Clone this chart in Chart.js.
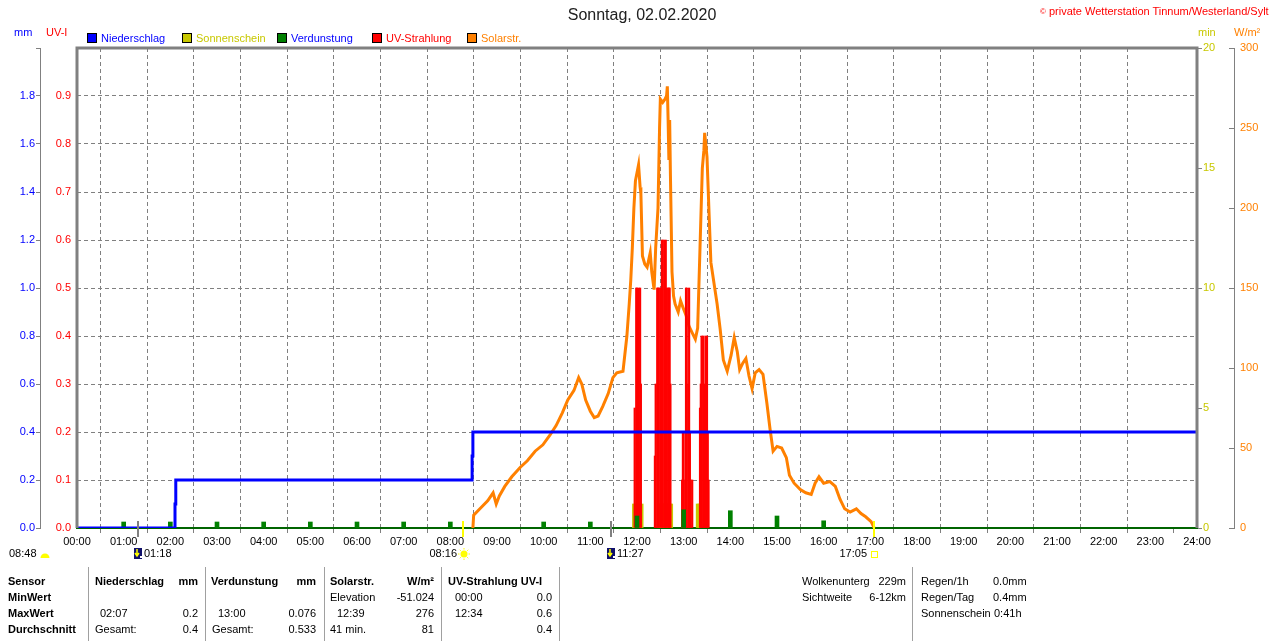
<!DOCTYPE html>
<html>
<head>
<meta charset="utf-8">
<script src="https://cdn.jsdelivr.net/npm/chart.js@4.4.1/dist/chart.umd.min.js"></script>
<style>
body{margin:0;background:#fff;}
#wrap{position:relative;width:1280px;height:641px;overflow:hidden;font-family:'Liberation Sans',Arial,sans-serif;font-size:11px;color:#000;}
canvas{position:absolute;left:0;top:0;}
.t{position:absolute;white-space:nowrap;line-height:13px;}
.r{transform:translateX(-100%);}
.b{font-weight:bold;}
.sep{position:absolute;top:567px;height:74px;width:1px;background:#a0a0a0;}
.box{position:absolute;width:8px;height:8px;border:1px solid #000;top:33px;}
</style>
</head>
<body>
<div id="wrap">
<canvas id="c" width="1280" height="641"></canvas>

<div class="t" style="left:642px;top:6px;font-size:16px;line-height:18px;color:#202020;transform:translateX(-50%);">Sonntag, 02.02.2020</div>
<div class="t" style="left:1040px;top:5px;color:#ff0000;"><span style="font-size:8px;vertical-align:top;">©</span> private Wetterstation Tinnum/Westerland/Sylt</div>

<div class="t" style="left:14px;top:26px;color:#0000ff;">mm</div>
<div class="t" style="left:46px;top:26px;color:#ff0000;">UV-I</div>
<div class="t" style="left:1198px;top:26px;color:#c8c800;">min</div>
<div class="t" style="left:1234px;top:26px;color:#ff8000;">W/m²</div>

<div class="box" style="left:87px;background:#0000ff;"></div>
<div class="t" style="left:101px;top:32px;color:#0000ff;">Niederschlag</div>
<div class="box" style="left:182px;background:#c8c800;"></div>
<div class="t" style="left:196px;top:32px;color:#c8c800;">Sonnenschein</div>
<div class="box" style="left:277px;background:#008000;"></div>
<div class="t" style="left:291px;top:32px;color:#0000ff;">Verdunstung</div>
<div class="box" style="left:372px;background:#ff0000;"></div>
<div class="t" style="left:386px;top:32px;color:#ff0000;">UV-Strahlung</div>
<div class="box" style="left:467px;background:#ff8000;"></div>
<div class="t" style="left:481px;top:32px;color:#ff8000;">Solarstr.</div>

<div class="sep" style="left:88px;"></div>
<div class="sep" style="left:205px;"></div>
<div class="sep" style="left:324px;"></div>
<div class="sep" style="left:441px;"></div>
<div class="sep" style="left:559px;"></div>
<div class="sep" style="left:912px;"></div>

<div class="t b" style="left:8px;top:575px;">Sensor</div>
<div class="t b" style="left:8px;top:591px;">MinWert</div>
<div class="t b" style="left:8px;top:607px;">MaxWert</div>
<div class="t b" style="left:8px;top:623px;">Durchschnitt</div>

<div class="t b" style="left:95px;top:575px;">Niederschlag</div>
<div class="t b r" style="left:198px;top:575px;">mm</div>
<div class="t" style="left:100px;top:607px;">02:07</div>
<div class="t r" style="left:198px;top:607px;">0.2</div>
<div class="t" style="left:95px;top:623px;">Gesamt:</div>
<div class="t r" style="left:198px;top:623px;">0.4</div>

<div class="t b" style="left:211px;top:575px;">Verdunstung</div>
<div class="t b r" style="left:316px;top:575px;">mm</div>
<div class="t" style="left:218px;top:607px;">13:00</div>
<div class="t r" style="left:316px;top:607px;">0.076</div>
<div class="t" style="left:212px;top:623px;">Gesamt:</div>
<div class="t r" style="left:316px;top:623px;">0.533</div>

<div class="t b" style="left:330px;top:575px;">Solarstr.</div>
<div class="t b r" style="left:434px;top:575px;">W/m²</div>
<div class="t" style="left:330px;top:591px;">Elevation</div>
<div class="t r" style="left:434px;top:591px;">-51.024</div>
<div class="t" style="left:337px;top:607px;">12:39</div>
<div class="t r" style="left:434px;top:607px;">276</div>
<div class="t" style="left:330px;top:623px;">41 min.</div>
<div class="t r" style="left:434px;top:623px;">81</div>

<div class="t b" style="left:448px;top:575px;">UV-Strahlung UV-I</div>
<div class="t" style="left:455px;top:591px;">00:00</div>
<div class="t r" style="left:552px;top:591px;">0.0</div>
<div class="t" style="left:455px;top:607px;">12:34</div>
<div class="t r" style="left:552px;top:607px;">0.6</div>
<div class="t r" style="left:552px;top:623px;">0.4</div>

<div class="t" style="left:802px;top:575px;">Wolkenunterg</div>
<div class="t r" style="left:906px;top:575px;">229m</div>
<div class="t" style="left:802px;top:591px;">Sichtweite</div>
<div class="t r" style="left:906px;top:591px;">6-12km</div>

<div class="t" style="left:921px;top:575px;">Regen/1h</div>
<div class="t" style="left:993px;top:575px;">0.0mm</div>
<div class="t" style="left:921px;top:591px;">Regen/Tag</div>
<div class="t" style="left:993px;top:591px;">0.4mm</div>
<div class="t" style="left:921px;top:607px;">Sonnenschein</div>
<div class="t" style="left:994px;top:607px;">0:41h</div>
</div>

<script>
// Niederschlag (kumuliert, mm)
var rainTimes = ["00:00", "02:06", "02:07", "08:28", "08:29", "24:00"];
var rainValues = [0, 0.1, 0.2, 0.3, 0.4, 0.4];

// Verdunstung (mm)
var evapTimes = ["01:00", "02:00", "03:00", "04:00", "05:00", "06:00", "07:00", "08:00", "10:00", "11:00", "12:00", "13:00", "14:00", "15:00", "16:00"];
var evapValues = [0.025, 0.025, 0.025, 0.025, 0.025, 0.025, 0.025, 0.025, 0.025, 0.025, 0.05, 0.076, 0.072, 0.05, 0.03];

// Sonnenschein (min)
var sunTimes = ["11:56", "11:58", "12:00", "12:02", "12:04", "12:06", "12:28", "12:30", "12:32", "12:34", "12:36", "12:38", "12:40", "12:42", "12:44", "13:18", "13:20"];
var sunValues = [1, 1, 1, 1, 1, 1, 1, 1, 1, 1, 1, 1, 1, 1, 1, 1, 1];

// UV-Strahlung (UV-I)
var uvTimes = ["11:57", "11:59", "12:00", "12:01", "12:02", "12:04", "12:05",
  "12:23", "12:24", "12:26", "12:27", "12:28", "12:30",
  "12:32", "12:33", "12:35", "12:36", "12:37", "12:38", "12:40", "12:41", "12:42", "12:43",
  "12:58", "12:59", "13:00", "13:02", "13:03", "13:04", "13:06", "13:07", "13:08", "13:09", "13:11",
  "13:21", "13:22", "13:23", "13:25", "13:26", "13:27", "13:28", "13:30", "13:31", "13:32"];
var uvValues = [0.25, 0.5, 0.5, 0.3, 0.5, 0.5, 0.3,
  0.15, 0.3, 0.5, 0.5, 0.5, 0.5,
  0.6, 0.6, 0.6, 0.55, 0.6, 0.5, 0.5, 0.5, 0.5, 0.3,
  0.1, 0.2, 0.2, 0.1, 0.5, 0.5, 0.3, 0.5, 0.2, 0.1, 0.1,
  0.25, 0.3, 0.4, 0.4, 0.25, 0.3, 0.4, 0.4, 0.2, 0.1];

// Solarstrahlung (W/m2)
var solarTimes = ["08:29", "08:30", "08:38", "08:48", "08:55", "08:59", "09:03", "09:10", "09:19", "09:30",
  "09:39", "09:49", "09:59", "10:08", "10:16", "10:24", "10:31", "10:39", "10:45", "10:49",
  "10:54", "11:00", "11:05", "11:10", "11:16", "11:23", "11:29", "11:34", "11:42", "11:47",
  "11:50", "11:52", "11:54", "11:56", "11:58", "12:00", "12:02", "12:04", "12:05", "12:07",
  "12:10", "12:13", "12:17", "12:19", "12:22", "12:24", "12:27", "12:29", "12:30", "12:33",
  "12:36", "12:38", "12:39", "12:40", "12:41", "12:42", "12:43", "12:45", "12:47", "12:49",
  "12:53", "12:56", "12:59", "13:03", "13:07", "13:11", "13:15", "13:18", "13:21", "13:24",
  "13:26", "13:27", "13:30", "13:33", "13:35", "13:39", "13:43", "13:47", "13:51", "13:56",
  "14:01", "14:05", "14:09", "14:12", "14:16", "14:20", "14:24", "14:28", "14:32", "14:37",
  "14:42", "14:47", "14:51", "14:55", "15:00", "15:06", "15:12", "15:16", "15:22", "15:30",
  "15:37", "15:44", "15:49", "15:54", "16:00", "16:08", "16:15", "16:21", "16:27", "16:34",
  "16:42", "16:48", "16:54", "17:01", "17:05"];
var solarValues = [0, 8, 12, 17, 22, 15, 20, 26, 32, 38,
  42, 48, 52, 58, 64, 72, 80, 86, 94, 90,
  80, 73, 69, 70, 76, 84, 94, 97, 98, 120,
  140, 155, 175, 200, 217, 222, 227, 213, 209, 170,
  165, 163, 172, 160, 149, 175, 200, 250, 268, 266,
  268, 270, 276, 255, 230, 255, 220, 160, 145, 140,
  135, 142, 138, 133, 126, 122, 118, 125, 175, 225,
  236, 247, 232, 192, 166, 153, 140, 124, 105, 98,
  108, 119, 110, 99, 103, 106, 95, 87, 97, 99,
  96, 78, 62, 48, 51, 50, 44, 33, 28, 24,
  22, 21, 28, 32, 28, 29, 26, 18, 12, 10,
  12, 9, 7, 4, 0];

var hourLabels = ["00:00", "01:00", "02:00", "03:00", "04:00", "05:00", "06:00", "07:00", "08:00", "09:00", "10:00", "11:00", "12:00",
  "13:00", "14:00", "15:00", "16:00", "17:00", "18:00", "19:00", "20:00", "21:00", "22:00", "23:00", "24:00"];

// Mond / Sonne auf- und untergang
var eventTimes = ["01:18", "08:16", "11:27", "17:05"];
var eventKinds = ["moon", "sunrise", "moon", "sunset"];
var dayLength = "08:48";

function toMin(s) {
  var p = s.split(":");
  return parseInt(p[0], 10) * 60 + parseInt(p[1], 10);
}
function pts(times, vals) {
  var out = [];
  for (var i = 0; i < times.length; i++) {
    out.push({x: toMin(times[i]), y: vals[i]});
  }
  return out;
}

var GRAY = "#808080";
var FONT = {family: "'Liberation Sans', Arial, sans-serif", size: 11};

var framePlugin = {
  id: "frame",
  afterDatasetsDraw: function(chart) {
    var a = chart.chartArea, c = chart.ctx;
    c.save();
    c.strokeStyle = GRAY;
    c.lineWidth = 3;
    c.beginPath();
    c.moveTo(a.left, a.bottom);
    c.lineTo(a.left, a.top);
    c.lineTo(a.right, a.top);
    c.lineTo(a.right, a.bottom);
    c.stroke();
    // inward ticks of the W/m2 axis
    var wm = chart.scales.wm;
    c.lineWidth = 1;
    wm.ticks.forEach(function(t) {
      var y = Math.round(wm.getPixelForValue(t.value)) + 0.5;
      c.beginPath();
      c.moveTo(wm.left - 5, y);
      c.lineTo(wm.left, y);
      c.stroke();
    });
    c.restore();
  },
  afterDraw: function(chart) {
    var c = chart.ctx, xs = chart.scales.x;
    c.save();
    c.font = "11px 'Liberation Sans', Arial, sans-serif";
    c.textBaseline = "middle";
    for (var i = 0; i < eventTimes.length; i++) {
      var x = Math.round(xs.getPixelForValue(toMin(eventTimes[i])));
      var kind = eventKinds[i];
      c.strokeStyle = kind == "moon" ? GRAY : "#ffff00";
      c.lineWidth = 2;
      c.beginPath();
      c.moveTo(x, 521);
      c.lineTo(x, 537);
      c.stroke();
      c.fillStyle = "#000";
      if (kind == "moon") {
        c.fillStyle = "#10106a";
        c.fillRect(x - 4, 548, 8, 11);
        c.strokeStyle = "#ffff00";
        c.lineWidth = 1.5;
        c.beginPath();
        c.moveTo(x - 1, 549); c.lineTo(x - 1, 556);
        c.moveTo(x - 3, 553); c.lineTo(x - 1, 556); c.lineTo(x + 1, 553);
        c.stroke();
        c.fillStyle = "#ffffff";
        c.fillRect(x + 2, 556, 2, 2);
        c.fillStyle = "#000";
        c.textAlign = "left";
        c.fillText(eventTimes[i], x + 6, 554);
      } else if (kind == "sunrise") {
        c.fillStyle = "#ffff00";
        c.beginPath();
        c.arc(x + 1, 554, 3.5, 0, Math.PI * 2);
        c.fill();
        c.strokeStyle = "#ffff00";
        c.lineWidth = 1;
        for (var k = 0; k < 8; k++) {
          var ang = k * Math.PI / 4;
          c.beginPath();
          c.moveTo(x + 1 + Math.cos(ang) * 4.5, 554 + Math.sin(ang) * 4.5);
          c.lineTo(x + 1 + Math.cos(ang) * 6, 554 + Math.sin(ang) * 6);
          c.stroke();
        }
        c.fillStyle = "#000";
        c.textAlign = "right";
        c.fillText(eventTimes[i], x - 6, 554);
      } else {
        c.strokeStyle = "#ffff00";
        c.lineWidth = 1;
        c.strokeRect(x - 2.5, 551.5, 6, 6);
        c.fillStyle = "#000";
        c.textAlign = "right";
        c.fillText(eventTimes[i], x - 7, 554);
      }
    }
    // day length at the left
    c.fillStyle = "#000";
    c.textAlign = "left";
    c.fillText(dayLength, 9, 554);
    c.fillStyle = "#ffff00";
    c.beginPath();
    c.arc(45, 558, 4.5, Math.PI, 0);
    c.fill();
    c.restore();
  }
};

var ctx = document.getElementById("c").getContext("2d");
var chart = new Chart(ctx, {
  type: "line",
  data: {
    datasets: [{
      label: "Niederschlag",
      data: pts(rainTimes, rainValues),
      yAxisID: "mm",
      borderColor: "#0000ff",
      borderWidth: 3,
      stepped: true,
      pointRadius: 0,
      fill: false,
      order: 0
    }, {
      type: "bar",
      label: "Verdunstung",
      data: pts(evapTimes, evapValues),
      yAxisID: "mm",
      backgroundColor: "#008000",
      barThickness: 4,
      grouped: false,
      order: 1
    }, {
      type: "bar",
      label: "UV-Strahlung",
      data: pts(uvTimes, uvValues),
      yAxisID: "uv",
      backgroundColor: "#ff0000",
      barThickness: 1.5,
      grouped: false,
      order: 2
    }, {
      type: "bar",
      label: "Sonnenschein",
      data: pts(sunTimes, sunValues),
      yAxisID: "min",
      backgroundColor: "#c8c800",
      barThickness: 3,
      grouped: false,
      order: 3
    }, {
      label: "Solarstr.",
      data: pts(solarTimes, solarValues),
      yAxisID: "wm",
      borderColor: "#ff8000",
      borderWidth: 3,
      pointRadius: 0,
      tension: 0,
      fill: false,
      order: 4
    }]
  },
  options: {
    responsive: false,
    devicePixelRatio: 1,
    animation: false,
    events: [],
    layout: {padding: {top: 48, left: 0, right: 0, bottom: 0}},
    plugins: {legend: {display: false}, tooltip: {enabled: false}},
    scales: {
      x: {
        type: "linear",
        position: "bottom",
        min: 0,
        max: 1440,
        offset: false,
        afterFit: function(s) { s.height = 113; },
        afterBuildTicks: function(s) {
          s.ticks = hourLabels.map(function(l, i) { return {value: i * 60}; });
        },
        ticks: {
          autoSkip: false,
          maxRotation: 0,
          padding: 2,
          color: "#000",
          font: FONT,
          callback: function(v) { return hourLabels[Math.round(v / 60)]; }
        },
        grid: {
          color: function(c) { return (c.tick && (c.tick.value <= 0 || c.tick.value >= 1440)) ? "rgba(0,0,0,0)" : GRAY; },
          tickColor: GRAY,
          tickLength: 5,
          lineWidth: 1
        },
        border: {display: true, color: "#006400", width: 2, dash: [4, 3]}
      },
      mm: {
        type: "linear",
        position: "left",
        weight: 1,
        min: 0,
        max: 2,
        afterFit: function(s) { s.width = 40; },
        ticks: {
          stepSize: 0.2,
          padding: 1,
          color: "#0000ff",
          font: FONT,
          callback: function(v) { return v >= 1.99 ? "" : v.toFixed(1); }
        },
        grid: {drawOnChartArea: false, tickLength: 4, color: GRAY},
        border: {display: true, color: GRAY, width: 1}
      },
      uv: {
        type: "linear",
        position: "left",
        weight: 0,
        min: 0,
        max: 1,
        afterFit: function(s) { s.width = 37; },
        ticks: {
          stepSize: 0.1,
          padding: 6,
          color: "#ff0000",
          font: FONT,
          callback: function(v) { return v >= 0.99 ? "" : v.toFixed(1); }
        },
        grid: {
          drawTicks: false,
          color: function(c) { return (c.tick && (c.tick.value <= 0.001 || c.tick.value >= 0.999)) ? "rgba(0,0,0,0)" : GRAY; }
        },
        border: {display: false, dash: [4, 3]}
      },
      min: {
        type: "linear",
        position: "right",
        weight: 0,
        min: 0,
        max: 20,
        afterFit: function(s) { s.width = 37; },
        ticks: {stepSize: 5, padding: 1, color: "#c8c800", font: FONT},
        grid: {drawOnChartArea: false, tickLength: 5, color: GRAY},
        border: {display: false}
      },
      wm: {
        type: "linear",
        position: "right",
        weight: 1,
        min: 0,
        max: 300,
        afterFit: function(s) { s.width = 46; },
        ticks: {stepSize: 50, padding: 6, color: "#ff8000", font: FONT},
        grid: {drawOnChartArea: false, drawTicks: false},
        border: {display: true, color: GRAY, width: 1}
      }
    }
  },
  plugins: [framePlugin]
});
</script>
</body>
</html>
